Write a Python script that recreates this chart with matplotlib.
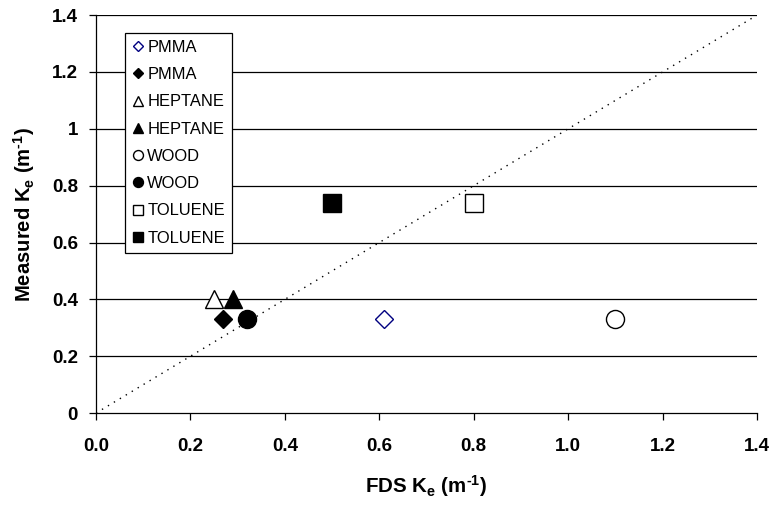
import matplotlib
matplotlib.use("Agg")
import matplotlib.pyplot as plt

plt.rcParams['font.family'] = ['Liberation Sans', 'DejaVu Sans']
plt.rcParams['mathtext.fontset'] = 'custom'
plt.rcParams['mathtext.rm'] = 'Liberation Sans:bold'
plt.rcParams['mathtext.it'] = 'Liberation Sans:bold'
plt.rcParams['mathtext.bf'] = 'Liberation Sans:bold'

# Extinction coefficient: FDS prediction vs measured, per fuel
labels = ["PMMA", "PMMA", "HEPTANE", "HEPTANE", "WOOD", "WOOD", "TOLUENE", "TOLUENE"]
fds_ke = [0.61, 0.27, 0.25, 0.29, 1.10, 0.32, 0.80, 0.50]
measured_ke = [0.33, 0.33, 0.40, 0.40, 0.33, 0.33, 0.74, 0.74]
markers = ["D", "D", "^", "^", "o", "o", "s", "s"]
filled = [False, True, False, True, False, True, False, True]
edge_colors = ["#000080", "black", "black", "black", "black", "black", "black", "black"]
sizes = [9.5, 9.5, 13, 13, 13, 13, 13, 13]

x_ticks = [0.0, 0.2, 0.4, 0.6, 0.8, 1.0, 1.2, 1.4]
y_ticks = [0, 0.2, 0.4, 0.6, 0.8, 1.0, 1.2, 1.4]
x_tick_labels = ["0.0", "0.2", "0.4", "0.6", "0.8", "1.0", "1.2", "1.4"]
y_tick_labels = ["0", "0.2", "0.4", "0.6", "0.8", "1", "1.2", "1.4"]

fig = plt.figure(figsize=(7.71, 5.05), dpi=100)
ax = fig.add_axes([0.1245, 0.182, 0.8573, 0.788])

for yv in y_ticks[1:]:
    ax.axhline(yv, color="black", lw=0.9, zorder=1)

ax.plot([0, 1.4], [0, 1.4], color="black", ls=(0, (1, 4)), lw=1.0, zorder=2)

for lab, xv, yv, m, f, ec, s in zip(labels, fds_ke, measured_ke, markers, filled, edge_colors, sizes):
    ax.plot([xv], [yv], ls="none", marker=m, markersize=s,
            markerfacecolor=(ec if f else "white"), markeredgecolor=ec,
            markeredgewidth=1.0, label=lab, zorder=3)

ax.set_xlim(0, 1.4)
ax.set_ylim(0, 1.4)
ax.set_xticks(x_ticks)
ax.set_xticklabels(x_tick_labels)
ax.set_yticks(y_ticks)
ax.set_yticklabels(y_tick_labels)
ax.tick_params(direction="out", length=5, width=0.9, labelsize=13.5, color="black")
ax.tick_params(axis="y", pad=8)
ax.tick_params(axis="x", pad=13)
for t in ax.get_xticklabels() + ax.get_yticklabels():
    t.set_fontweight("bold")

ax.spines["right"].set_visible(False)
ax.spines["top"].set_visible(False)
for sp in ("left", "bottom"):
    ax.spines[sp].set_linewidth(0.9)
    ax.spines[sp].set_color("black")

ax.set_xlabel(r"FDS K$_\mathrm{e}$ (m$^{\text{-}1}$)", fontsize=14.8, fontweight="bold", labelpad=13)
ax.set_ylabel(r"Measured K$_\mathrm{e}$ (m$^{\text{-}1}$)", fontsize=14.6, fontweight="bold", labelpad=11)

leg = ax.legend(loc="upper left", bbox_to_anchor=(0.044, 0.955), fontsize=11.9,
                markerscale=0.55, handlelength=0.7, handletextpad=0.22,
                labelspacing=0.74, borderpad=0.42, borderaxespad=0,
                frameon=True, fancybox=False,
                edgecolor="black", framealpha=1.0)
leg.get_frame().set_linewidth(0.9)
leg.set_zorder(5)

fig.savefig("out.png", dpi=100)
